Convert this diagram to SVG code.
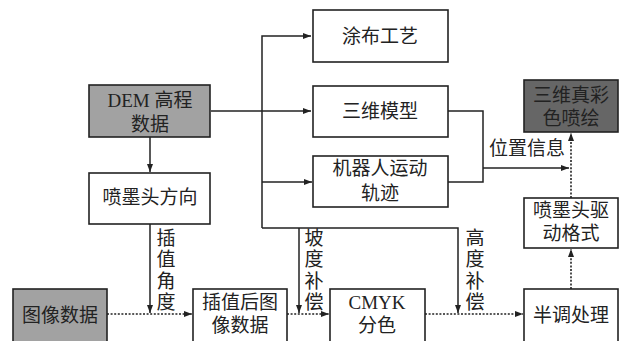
<svg xmlns="http://www.w3.org/2000/svg" width="622" height="341" viewBox="0 0 622 341">
<defs>
<marker id="ah" markerWidth="8" markerHeight="6" refX="8" refY="3" orient="auto" markerUnits="userSpaceOnUse">
<path d="M0,0 L8,3 L0,6 z" fill="#222"/>
</marker>
</defs>
<style>
.box{fill:#fff;stroke:#222;stroke-width:1.6}
.g1{fill:#a2a2a2}
.g2{fill:#666}
text{font-family:"Liberation Serif","Noto Sans CJK SC",serif;font-size:19px;fill:#222;text-anchor:middle}
.ln{fill:none;stroke:#222;stroke-width:1.5}
.dt{fill:none;stroke:#222;stroke-width:1.6;stroke-dasharray:2 1.6}
</style>
<rect width="622" height="341" fill="#fff"/>
<g id="connectors">
<path class="ln" d="M262,228 V36 H311" marker-end="url(#ah)"/>
<path class="ln" d="M211,111 H311" marker-end="url(#ah)"/>
<path class="ln" d="M262,182 H312" marker-end="url(#ah)"/>
<path class="ln" d="M150,137 V172" marker-end="url(#ah)"/>
<path class="ln" d="M448,111 H483 V182 H448"/>
<path class="ln" d="M483,168 H569" marker-end="url(#ah)"/>
<path class="ln" d="M262,228 H458 V313" marker-end="url(#ah)"/>
<path class="ln" d="M299,228 V313" marker-end="url(#ah)"/>
<path class="ln" d="M150,224 V313" marker-end="url(#ah)"/>
<path class="dt" d="M107,314 H192" marker-end="url(#ah)"/>
<path class="dt" d="M287,314 H329" marker-end="url(#ah)"/>
<path class="dt" d="M425,314 H523" marker-end="url(#ah)"/>
<path class="dt" d="M571,289 V249" marker-end="url(#ah)"/>
<path class="dt" d="M571,198 V133" marker-end="url(#ah)"/>
<text x="527" y="155">位置信息</text>
<text x="166" y="245">插</text>
<text x="166" y="266">值</text>
<text x="166" y="288">角</text>
<text x="166" y="309">度</text>
<text x="314" y="245">坡</text>
<text x="314" y="266">度</text>
<text x="314" y="288">补</text>
<text x="314" y="309">偿</text>
<text x="475" y="245">高</text>
<text x="475" y="266">度</text>
<text x="475" y="288">补</text>
<text x="475" y="309">偿</text>
</g>
<g id="n_dem"><rect class="box g1" x="89" y="85" width="121" height="52"/><text x="150" y="107">DEM 高程</text><text x="150" y="131">数据</text></g>
<g id="n_coat"><rect class="box" x="313" y="10" width="135" height="52"/><text x="380" y="43">涂布工艺</text></g>
<g id="n_model"><rect class="box" x="313" y="86" width="135" height="51"/><text x="380" y="118">三维模型</text></g>
<g id="n_robot"><rect class="box" x="313" y="156" width="135" height="51"/><text x="380" y="175">机器人运动</text><text x="380" y="200">轨迹</text></g>
<g id="n_final"><rect class="box g2" x="524" y="80" width="94" height="52"/><text x="571" y="102">三维真彩</text><text x="571" y="125">色喷绘</text></g>
<g id="n_nozzle"><rect class="box" x="89" y="173" width="121" height="51"/><text x="150" y="204">喷墨头方向</text></g>
<g id="n_drive"><rect class="box" x="524" y="198" width="94" height="50"/><text x="571" y="217">喷墨头驱</text><text x="571" y="240">动格式</text></g>
<g id="n_img"><rect class="box g1" x="13" y="289" width="94" height="54"/><text x="60" y="322">图像数据</text></g>
<g id="n_interp"><rect class="box" x="193" y="289" width="94" height="54"/><text x="240" y="309">插值后图</text><text x="240" y="332">像数据</text></g>
<g id="n_cmyk"><rect class="box" x="330" y="289" width="95" height="54"/><text x="377" y="309">CMYK</text><text x="377" y="332">分色</text></g>
<g id="n_half"><rect class="box" x="524" y="289" width="94" height="54"/><text x="571" y="322">半调处理</text></g>
</svg>
